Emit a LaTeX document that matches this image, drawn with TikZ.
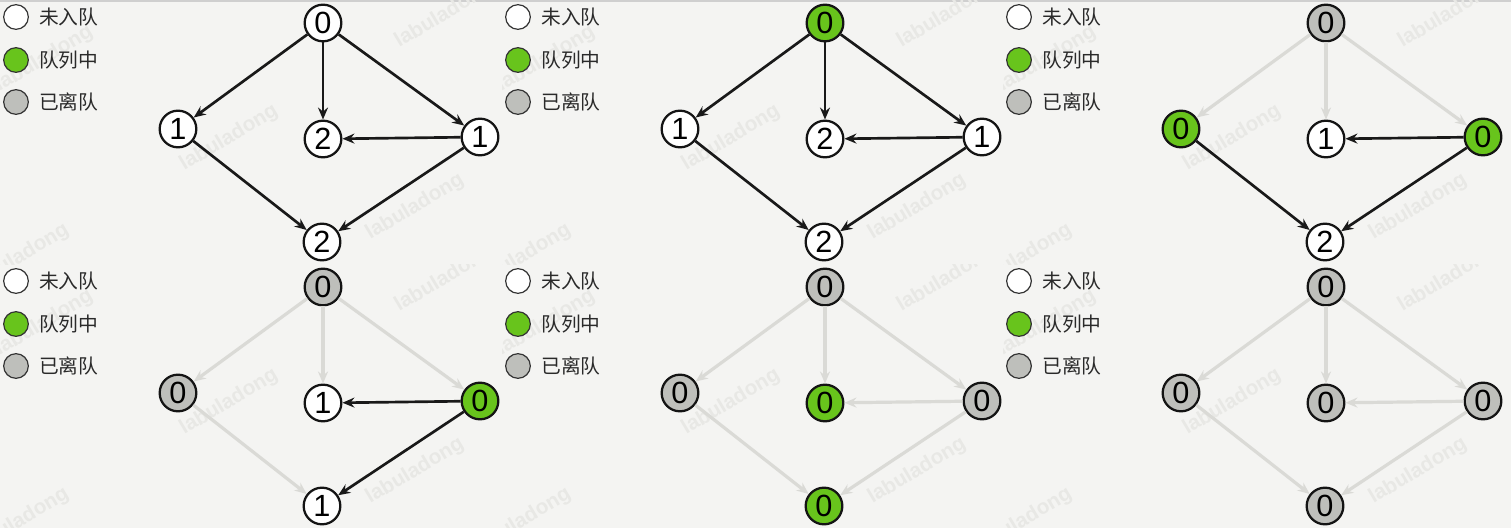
\documentclass[tikz,border=0pt]{standalone}
\usepackage{fontspec}
\setmainfont{Liberation Sans}
\newfontfamily\cjkfont{Noto Sans CJK SC}
\newfontfamily\digitfont{Liberation Sans}
\usetikzlibrary{arrows.meta}
\definecolor{paper}{HTML}{F4F4F2}
\definecolor{qgreen}{HTML}{68C41C}
\definecolor{qgray}{HTML}{BEBFBB}
\definecolor{edgegray}{HTML}{DADAD6}
\definecolor{wmgray}{HTML}{E8E8E5}
\definecolor{legtext}{HTML}{2A2A2A}
\definecolor{topgray}{HTML}{CFCFCF}
\begin{document}
\begin{tikzpicture}[x=0.75pt,y=-0.75pt,
  vx/.style={circle, draw=black!92, line width=1.7pt, minimum size=27.5pt, inner sep=0pt,
             font={\digitfont\fontsize{23}{23}\selectfont}},
  unq/.style={vx, fill=white},
  inq/.style={vx, fill=qgreen},
  deq/.style={vx, fill=qgray},
  live/.style={draw=black!90, line width=2pt, -{Stealth[length=9pt,width=7.5pt,inset=3pt]}},
  dead/.style={draw=edgegray, line width=2.4pt, -{Stealth[length=9pt,width=7.5pt,inset=3pt]}},
  lg/.style={circle, draw=black!80, line width=0.9pt, minimum size=18.5pt, inner sep=0pt},
  lgtext/.style={anchor=west, inner sep=0pt, text=legtext, font={\cjkfont\fontsize{14.8}{14.8}\selectfont}},
  wm/.style={rotate=31, text=wmgray, inner sep=0pt, font={\bfseries\fontsize{15.5}{15.5}\selectfont}},
  topline/.style={draw=topgray, line width=1.2pt}
]
\fill[paper] (0,0) rectangle (1511,528);
\useasboundingbox (0,0) rectangle (1511,528);
\draw[topline] (0,0.8) -- (1511,0.8);

% watermarks and legends, one set per panel
\foreach \ox/\oy/\w/\p in {0/0/502/a, 502/0/501/b, 1003/0/508/c, 0/264/502/d, 502/264/501/e, 1003/264/508/f} {
  \begin{scope}[shift={(\ox,\oy)}]
    \begin{scope}
      \clip (0,0) rectangle (\w,264);
      \node[wm] (\p-w1) at (229,138) {labuladong};
      \node[wm] (\p-w2) at (415,207) {labuladong};
      \node[wm] (\p-w3) at (444,15) {labuladong};
      \node[wm] (\p-w4) at (44,59) {labuladong};
      \node[wm] (\p-w5) at (20,257) {labuladong};
    \end{scope}
    \node[lg, fill=white] (\p-k1) at (16,17) {};
    \node[lg, fill=qgreen] (\p-k2) at (16,60) {};
    \node[lg, fill=qgray] (\p-k3) at (16,102) {};
    \node[lgtext] (\p-s1) at (39,17) {未入队};
    \node[lgtext] (\p-s2) at (39,60) {队列中};
    \node[lgtext] (\p-s3) at (39,102) {已离队};
  \end{scope}
}

% panel a
\begin{scope}[shift={(0,0)}]
  \node[unq] (a-t) at (323,23) {0};
  \node[unq] (a-l) at (178,129) {1};
  \node[unq] (a-m) at (323,139) {2};
  \node[unq] (a-r) at (480,137) {1};
  \node[unq] (a-b) at (322,242) {2};
  \draw[live] (a-t) -- (a-l);
  \draw[live] (a-t) -- (a-m);
  \draw[live] (a-t) -- (a-r);
  \draw[live] (a-r) -- (a-m);
  \draw[live] (a-l) -- (a-b);
  \draw[live] (a-r) -- (a-b);
\end{scope}

% panel b
\begin{scope}[shift={(502,0)}]
  \node[inq] (b-t) at (323,23) {0};
  \node[unq] (b-l) at (178,129) {1};
  \node[unq] (b-m) at (323,139) {2};
  \node[unq] (b-r) at (480,137) {1};
  \node[unq] (b-b) at (322,242) {2};
  \draw[live] (b-t) -- (b-l);
  \draw[live] (b-t) -- (b-m);
  \draw[live] (b-t) -- (b-r);
  \draw[live] (b-r) -- (b-m);
  \draw[live] (b-l) -- (b-b);
  \draw[live] (b-r) -- (b-b);
\end{scope}

% panel c
\begin{scope}[shift={(1003,0)}]
  \node[deq] (c-t) at (323,23) {0};
  \node[inq] (c-l) at (178,129) {0};
  \node[unq] (c-m) at (323,139) {1};
  \node[inq] (c-r) at (480,137) {0};
  \node[unq] (c-b) at (322,242) {2};
  \draw[dead] (c-t) -- (c-l);
  \draw[dead] (c-t) -- (c-m);
  \draw[dead] (c-t) -- (c-r);
  \draw[live] (c-r) -- (c-m);
  \draw[live] (c-l) -- (c-b);
  \draw[live] (c-r) -- (c-b);
\end{scope}

% panel d
\begin{scope}[shift={(0,264)}]
  \node[deq] (d-t) at (323,23) {0};
  \node[deq] (d-l) at (178,129) {0};
  \node[unq] (d-m) at (323,139) {1};
  \node[inq] (d-r) at (480,137) {0};
  \node[unq] (d-b) at (322,242) {1};
  \draw[dead] (d-t) -- (d-l);
  \draw[dead] (d-t) -- (d-m);
  \draw[dead] (d-t) -- (d-r);
  \draw[live] (d-r) -- (d-m);
  \draw[dead] (d-l) -- (d-b);
  \draw[live] (d-r) -- (d-b);
\end{scope}

% panel e
\begin{scope}[shift={(502,264)}]
  \node[deq] (e-t) at (323,23) {0};
  \node[deq] (e-l) at (178,129) {0};
  \node[inq] (e-m) at (323,139) {0};
  \node[deq] (e-r) at (480,137) {0};
  \node[inq] (e-b) at (322,242) {0};
  \draw[dead] (e-t) -- (e-l);
  \draw[dead] (e-t) -- (e-m);
  \draw[dead] (e-t) -- (e-r);
  \draw[dead] (e-r) -- (e-m);
  \draw[dead] (e-l) -- (e-b);
  \draw[dead] (e-r) -- (e-b);
\end{scope}

% panel f
\begin{scope}[shift={(1003,264)}]
  \node[deq] (f-t) at (323,23) {0};
  \node[deq] (f-l) at (178,129) {0};
  \node[deq] (f-m) at (323,139) {0};
  \node[deq] (f-r) at (480,137) {0};
  \node[deq] (f-b) at (322,242) {0};
  \draw[dead] (f-t) -- (f-l);
  \draw[dead] (f-t) -- (f-m);
  \draw[dead] (f-t) -- (f-r);
  \draw[dead] (f-r) -- (f-m);
  \draw[dead] (f-l) -- (f-b);
  \draw[dead] (f-r) -- (f-b);
\end{scope}
\end{tikzpicture}
\end{document}
